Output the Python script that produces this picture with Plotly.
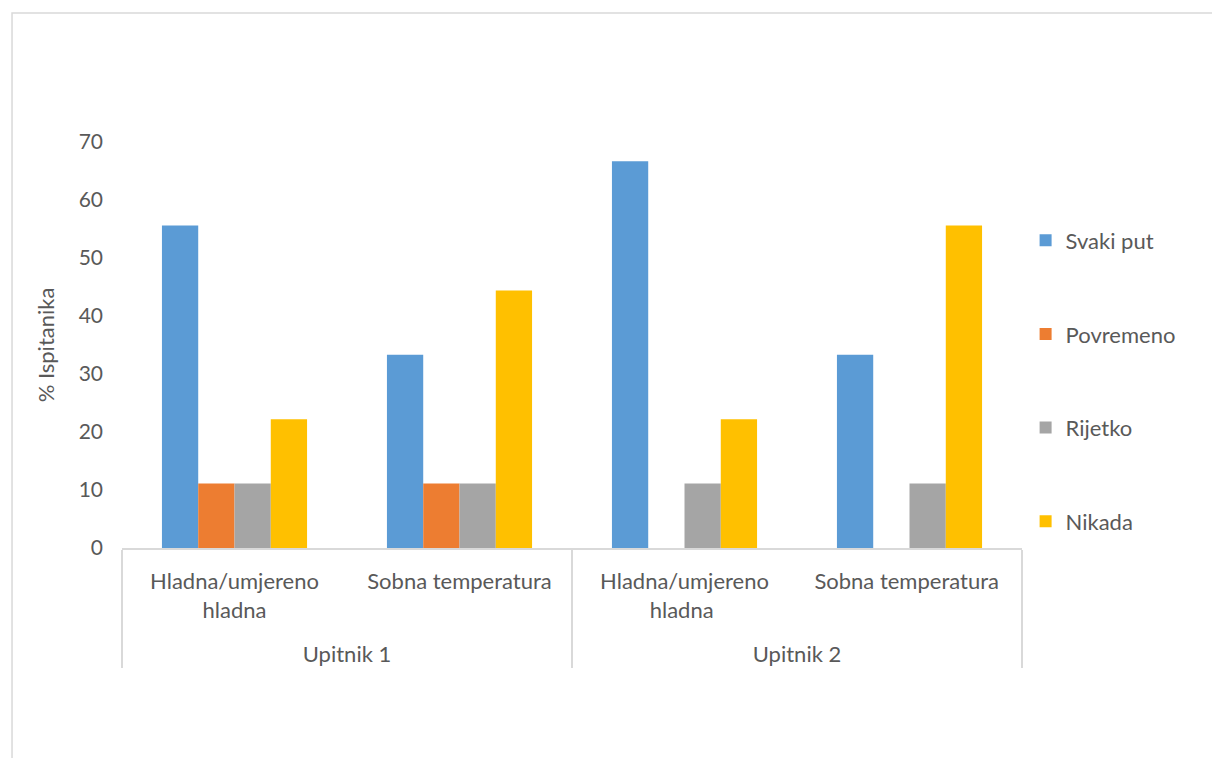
import plotly.graph_objects as go

upitnik = ["Upitnik 1", "Upitnik 1", "Upitnik 2", "Upitnik 2"]
temperatura = ["Hladna/umjereno<br>hladna<br> ", "Sobna temperatura<br> <br> ",
               "Hladna/umjereno<br>hladna <br> ", "Sobna temperatura <br> <br> "]

svaki_put = [55.6, 33.3, 66.7, 33.3]
povremeno = [11.1, 11.1, 0, 0]
rijetko = [11.1, 11.1, 11.1, 11.1]
nikada = [22.2, 44.4, 22.2, 55.6]

series = [
    ("Svaki put", svaki_put, "#5b9bd5"),
    ("Povremeno", povremeno, "#ed7d31"),
    ("Rijetko", rijetko, "#a5a5a5"),
    ("Nikada", nikada, "#ffc000"),
]

fig = go.Figure()
for name, vals, col in series:
    fig.add_trace(go.Bar(
        x=[upitnik, temperatura],
        y=vals,
        name=name,
        marker=dict(color=col, line=dict(width=0)),
        legendgroup=name,
    ))

txt = "#595959"
fs = 22
fig.update_layout(
    width=1220, height=758,
    paper_bgcolor="white", plot_bgcolor="white",
    font=dict(family="Lato, Open Sans, sans-serif", size=fs, color=txt),
    barmode="group",
    bargap=0.355, bargroupgap=0,
    margin=dict(l=114, r=206, t=134, b=218),
    xaxis=dict(
        type="multicategory",
        showline=True, linecolor="#d9d9d9", linewidth=1.5,
        showdividers=True, dividercolor="#d9d9d9", dividerwidth=1.5,
        ticks="", tickfont=dict(size=fs, color=txt),
        ticklabelstandoff=13,
    ),
    yaxis=dict(
        range=[0, 70], dtick=10, showgrid=False, zeroline=False,
        showline=False, ticks="", tickfont=dict(size=21, color=txt),
        ticklabelstandoff=18,
        title=dict(text="% Ispitanika", font=dict(size=fs, color=txt), standoff=17),
    ),
    legend=dict(
        x=1.004, xanchor="left", y=0.809, yanchor="top",
        font=dict(size=fs, color=txt), tracegroupgap=62,
    ),
    shapes=[dict(type="rect", xref="paper", yref="paper",
                 x0=-0.1222, x1=1.5, y0=-1, y1=1.3177,
                 line=dict(color="#d9d9d9", width=1.5))],
)

fig.write_html("out.html")
